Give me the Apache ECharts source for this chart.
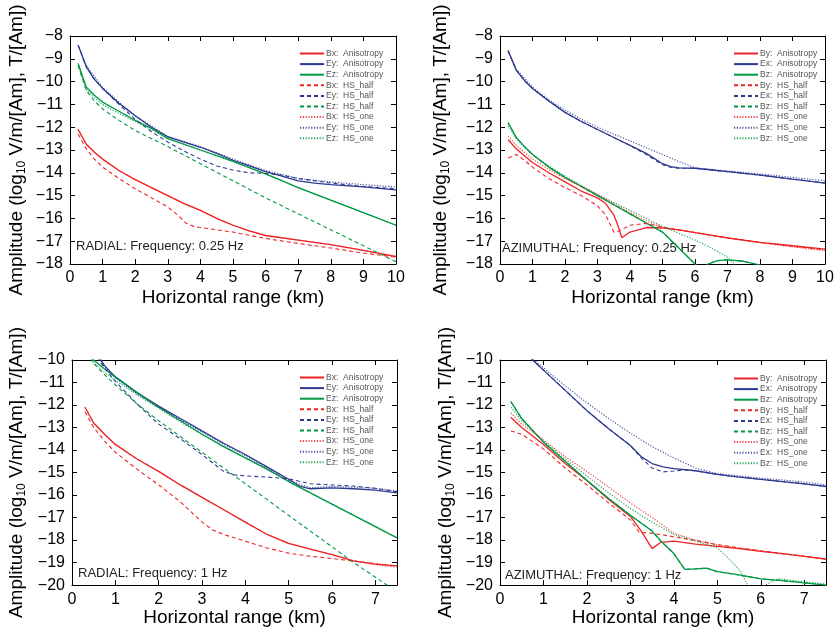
<!DOCTYPE html>
<html>
<head>
<meta charset="utf-8">
<script src="https://cdn.jsdelivr.net/npm/echarts@6/dist/echarts.min.js"></script>
<style>html,body{margin:0;padding:0;background:#fff}#c{width:838px;height:628px}</style>
</head>
<body>
<div id="c"></div>
<script>
// ---------- Panel 1: RADIAL, 0.25 Hz ----------
const r025_Bx_aniso = [[0.25,-12.1],[0.5,-12.75],[0.75,-13.1],[1,-13.4],[1.5,-13.9],[2,-14.3],[2.5,-14.65],[3,-15.0],[3.5,-15.35],[4,-15.65],[4.5,-16.0],[5,-16.3],[5.5,-16.55],[6,-16.75],[7,-16.95],[8,-17.15],[9,-17.4],[10,-17.68]];
const r025_Ey_aniso = [[0.25,-8.4],[0.5,-9.35],[0.75,-9.9],[1,-10.3],[1.5,-10.95],[2,-11.5],[2.5,-12.0],[3,-12.42],[3.5,-12.65],[4,-12.88],[4.5,-13.15],[5,-13.45],[5.5,-13.7],[6,-13.95],[6.5,-14.15],[7,-14.35],[7.5,-14.45],[8,-14.52],[9,-14.62],[10,-14.75]];
const r025_Ez_aniso = [[0.25,-9.2],[0.5,-10.25],[0.75,-10.6],[1,-10.9],[1.5,-11.3],[2,-11.7],[2.5,-12.05],[3,-12.5],[4,-13.0],[5,-13.5],[6,-14.05],[7,-14.65],[8,-15.2],[9,-15.75],[10,-16.3]];
const r025_Bx_half = [[0.25,-12.3],[0.5,-12.95],[0.75,-13.4],[1,-13.75],[1.5,-14.25],[2,-14.7],[2.5,-15.1],[3,-15.5],[3.3,-15.85],[3.55,-16.2],[3.8,-16.35],[4,-16.4],[5,-16.6],[6,-16.88],[7,-17.1],[8,-17.3],[9,-17.52],[10,-17.7]];
const r025_Ey_half = [[0.25,-8.4],[0.5,-9.35],[0.75,-9.9],[1,-10.3],[1.5,-11.0],[2,-11.65],[2.5,-12.2],[3,-12.65],[3.5,-13.05],[4,-13.4],[4.5,-13.7],[5,-13.88],[5.5,-14.0],[6,-14.02],[6.5,-14.1],[7,-14.25],[8,-14.45],[9,-14.6],[10,-14.7]];
const r025_Ez_half = [[0.25,-9.3],[0.5,-10.4],[0.75,-10.85],[1,-11.2],[1.5,-11.7],[2,-12.15],[3,-12.85],[4,-13.6],[5,-14.35],[6,-15.1],[7,-15.8],[8,-16.5],[9,-17.2],[10,-17.9]];
const r025_Bx_one = [[0.25,-12.1],[0.5,-12.75],[0.75,-13.1],[1,-13.4],[1.5,-13.9],[2,-14.3],[2.5,-14.65],[3,-15.0],[3.5,-15.35],[4,-15.65],[4.5,-16.0],[5,-16.3],[5.5,-16.55],[6,-16.75],[7,-16.95],[8,-17.15],[9,-17.4],[10,-17.65]];
const r025_Ey_one = [[0.25,-8.4],[0.5,-9.3],[1,-10.25],[1.5,-10.9],[2,-11.5],[3,-12.4],[4,-12.85],[5,-13.4],[6,-13.9],[7,-14.25],[8,-14.4],[9,-14.52],[10,-14.62]];
const r025_Ez_one = [[0.25,-9.3],[0.5,-10.35],[0.75,-10.7],[1,-11.0],[1.5,-11.4],[2,-11.75],[2.5,-12.1],[3,-12.5],[4,-13.0],[5,-13.5],[6,-14.05],[7,-14.65],[8,-15.2],[9,-15.75],[10,-16.3]];

// ---------- Panel 2: AZIMUTHAL, 0.25 Hz ----------
const a025_By_aniso = [[0.25,-12.55],[0.5,-12.95],[0.75,-13.25],[1,-13.55],[1.5,-14.0],[2,-14.4],[2.5,-14.8],[3,-15.1],[3.25,-15.35],[3.5,-15.85],[3.6,-16.2],[3.75,-16.85],[4,-16.6],[4.5,-16.4],[5,-16.42],[5.5,-16.5],[6,-16.62],[7,-16.85],[8,-17.05],[9,-17.2],[10,-17.35]];
const a025_Ex_aniso = [[0.25,-8.65],[0.5,-9.5],[0.75,-9.95],[1,-10.3],[1.5,-10.85],[2,-11.35],[2.5,-11.75],[3,-12.1],[3.5,-12.45],[4,-12.8],[4.5,-13.15],[5,-13.6],[5.25,-13.73],[5.5,-13.78],[6,-13.8],[7,-13.95],[8,-14.1],[9,-14.28],[10,-14.45]];
const a025_Bz_aniso = [[0.25,-11.8],[0.5,-12.45],[0.75,-12.85],[1,-13.2],[1.5,-13.75],[2,-14.2],[2.5,-14.6],[3,-15.0],[3.5,-15.4],[4,-15.8],[4.5,-16.2],[5,-16.6],[5.5,-17.3],[6,-18.0],[6.2,-18.3],[6.4,-18.0],[6.7,-17.85],[7,-17.82],[7.5,-17.88],[8,-18.05],[8.2,-18.2]];
const a025_By_half = [[0.25,-13.35],[0.5,-13.2],[0.75,-13.45],[1,-13.75],[1.5,-14.25],[2,-14.65],[2.5,-15.0],[3,-15.45],[3.25,-15.85],[3.5,-16.6],[3.6,-16.6],[4,-16.3],[4.5,-16.22],[5,-16.38],[5.5,-16.5],[6,-16.62],[7,-16.85],[8,-17.05],[9,-17.22],[10,-17.38]];
const a025_Ex_half = [[0.25,-8.65],[0.5,-9.5],[0.75,-9.95],[1,-10.3],[1.5,-10.85],[2,-11.35],[2.5,-11.75],[3,-12.1],[3.5,-12.45],[4,-12.8],[4.5,-13.2],[5,-13.65],[5.25,-13.76],[5.5,-13.8],[6,-13.8],[7,-13.95],[8,-14.1],[9,-14.28],[10,-14.45]];
const a025_Bz_half = [[0.25,-11.8],[0.5,-12.45],[0.75,-12.85],[1,-13.2],[1.5,-13.75],[2,-14.2],[2.5,-14.6],[3,-15.0],[3.5,-15.4],[4,-15.8],[4.5,-16.2],[5,-16.6],[5.5,-17.3],[6,-18.0],[6.2,-18.3],[6.4,-18.0],[6.7,-17.85],[7,-17.82],[7.5,-17.88],[8,-18.05],[8.2,-18.2]];
const a025_By_one = [[0.25,-12.4],[0.5,-12.8],[1,-13.4],[1.5,-13.85],[2,-14.25],[2.5,-14.6],[3,-14.95],[3.5,-15.35],[4,-15.75],[4.5,-16.1],[5,-16.4],[6,-16.62],[7,-16.87],[8,-17.07],[9,-17.25],[10,-17.42]];
const a025_Ex_one = [[0.25,-8.65],[0.5,-9.45],[1,-10.25],[1.5,-10.8],[2,-11.25],[2.5,-11.65],[3,-12.0],[3.5,-12.3],[4,-12.6],[4.5,-12.9],[5,-13.2],[5.5,-13.5],[6,-13.78],[7,-13.92],[8,-14.05],[9,-14.2],[10,-14.35]];
const a025_Bz_one = [[0.25,-11.95],[0.5,-12.5],[1,-13.2],[1.5,-13.7],[2,-14.15],[2.5,-14.55],[3,-14.95],[3.5,-15.3],[4,-15.65],[4.5,-16.0],[5,-16.35],[5.5,-16.65],[6,-16.95],[6.5,-17.3],[7,-17.7],[7.25,-18.05],[7.5,-18.4]];

// ---------- Panel 3: RADIAL, 1 Hz ----------
const r1_Bx_aniso = [[0.3,-12.1],[0.5,-12.8],[0.75,-13.3],[1,-13.75],[1.5,-14.4],[2,-14.95],[2.5,-15.55],[3,-16.1],[3.5,-16.65],[4,-17.2],[4.5,-17.75],[5,-18.15],[5.5,-18.4],[6,-18.65],[6.5,-18.92],[7,-19.07],[7.5,-19.15]];
const r1_Ey_aniso = [[0.25,-8.6],[0.5,-9.5],[0.75,-10.25],[1,-10.75],[1.5,-11.45],[2,-12.05],[2.5,-12.6],[3,-13.15],[3.5,-13.7],[4,-14.2],[4.5,-14.75],[5,-15.3],[5.25,-15.6],[5.5,-15.72],[6,-15.68],[6.5,-15.72],[7,-15.78],[7.5,-15.9]];
const r1_Ez_aniso = [[0.25,-9.3],[0.5,-10.0],[0.75,-10.4],[1,-10.75],[1.5,-11.45],[2,-12.1],[2.5,-12.7],[3,-13.3],[3.5,-13.85],[4,-14.35],[4.5,-14.85],[5,-15.4],[5.5,-15.9],[6,-16.4],[6.5,-16.9],[7,-17.4],[7.5,-17.9]];
const r1_Bx_half = [[0.3,-12.3],[0.5,-13.0],[0.75,-13.6],[1,-14.1],[1.5,-14.85],[2,-15.55],[2.5,-16.3],[3,-17.2],[3.25,-17.55],[3.5,-17.75],[4,-18.05],[4.5,-18.35],[5,-18.58],[5.5,-18.72],[6,-18.82],[6.5,-18.93],[7,-19.05],[7.5,-19.15]];
const r1_Ey_half = [[0.25,-8.8],[0.5,-9.7],[0.75,-10.35],[1,-10.95],[1.5,-11.95],[2,-12.85],[2.5,-13.5],[3,-14.2],[3.5,-14.95],[3.75,-15.1],[4,-15.15],[4.5,-15.2],[5,-15.28],[5.5,-15.5],[6,-15.55],[6.5,-15.6],[7,-15.7],[7.5,-15.85]];
const r1_Ez_half = [[0.25,-9.4],[0.5,-10.15],[0.75,-10.65],[1,-11.1],[1.5,-11.95],[2,-12.7],[2.5,-13.4],[3,-14.1],[3.5,-14.8],[4,-15.5],[4.5,-16.2],[5,-16.9],[5.5,-17.6],[6,-18.3],[6.5,-19.0],[7,-19.65],[7.5,-20.3]];
const r1_Bx_one = [[0.3,-12.1],[0.5,-12.8],[0.75,-13.3],[1,-13.75],[1.5,-14.4],[2,-14.95],[2.5,-15.55],[3,-16.1],[3.5,-16.65],[4,-17.2],[4.5,-17.75],[5,-18.15],[5.5,-18.4],[6,-18.65],[6.5,-18.92],[7,-19.1],[7.5,-19.2]];
const r1_Ey_one = [[0.25,-8.6],[0.5,-9.5],[0.75,-10.3],[1,-10.8],[1.5,-11.5],[2,-12.1],[2.5,-12.65],[3,-13.2],[3.5,-13.75],[4,-14.25],[4.5,-14.8],[5,-15.35],[5.5,-15.68],[6,-15.62],[6.5,-15.65],[7,-15.7],[7.5,-15.82]];
const r1_Ez_one = [[0.25,-9.35],[0.5,-10.1],[0.75,-10.55],[1,-10.9],[1.5,-11.55],[2,-12.15],[2.5,-12.75],[3,-13.3],[3.5,-13.85],[4,-14.35],[4.5,-14.85],[5,-15.4],[5.5,-15.9],[6,-16.4],[6.5,-16.9],[7,-17.4],[7.5,-17.9]];

// ---------- Panel 4: AZIMUTHAL, 1 Hz ----------
const a1_By_aniso = [[0.25,-12.55],[0.5,-13.0],[1,-13.75],[1.5,-14.6],[2,-15.35],[2.5,-16.2],[3,-16.95],[3.25,-17.6],[3.5,-18.38],[3.7,-18.1],[4,-18.05],[4.5,-18.18],[5,-18.28],[5.5,-18.38],[6,-18.5],[6.5,-18.6],[7,-18.72],[7.5,-18.85]];
const a1_Ex_aniso = [[0.25,-8.7],[0.5,-9.5],[0.75,-10.0],[1,-10.45],[1.5,-11.35],[2,-12.25],[2.5,-13.05],[3,-13.8],[3.25,-14.3],[3.5,-14.6],[3.75,-14.75],[4,-14.83],[4.5,-14.92],[5,-15.08],[5.5,-15.2],[6,-15.3],[6.5,-15.4],[7,-15.5],[7.5,-15.62]];
const a1_Bz_aniso = [[0.25,-11.85],[0.5,-12.6],[1,-13.65],[1.5,-14.5],[2,-15.35],[2.5,-16.15],[3,-16.9],[3.5,-17.6],[3.7,-18.04],[4,-18.6],[4.25,-19.3],[4.5,-19.28],[4.75,-19.25],[5,-19.4],[5.5,-19.55],[6,-19.72],[6.5,-19.8],[7,-19.9],[7.5,-20.0]];
const a1_By_half = [[0.25,-13.15],[0.5,-13.3],[1,-13.95],[1.5,-14.8],[2,-15.55],[2.5,-16.35],[3,-17.1],[3.2,-17.65],[3.5,-17.7],[4,-17.85],[4.5,-18.02],[5,-18.2],[5.5,-18.35],[6,-18.48],[6.5,-18.6],[7,-18.72],[7.5,-18.85]];
const a1_Ex_half = [[0.25,-8.7],[0.5,-9.5],[0.75,-10.0],[1,-10.45],[1.5,-11.35],[2,-12.25],[2.5,-13.05],[3,-13.8],[3.25,-14.35],[3.5,-14.8],[3.75,-14.97],[4,-14.93],[4.25,-14.88],[4.5,-14.92],[5,-15.08],[5.5,-15.2],[6,-15.3],[6.5,-15.4],[7,-15.5],[7.5,-15.62]];
const a1_Bz_half = [[0.25,-11.85],[0.5,-12.6],[1,-13.65],[1.5,-14.5],[2,-15.35],[2.5,-16.15],[3,-16.9],[3.5,-17.6],[3.7,-18.04],[4,-18.6],[4.25,-19.3],[4.5,-19.28],[4.75,-19.25],[5,-19.4],[5.5,-19.55],[6,-19.72],[6.5,-19.8],[7,-19.9],[7.5,-20.0]];
const a1_By_one = [[0.25,-12.35],[0.5,-12.85],[1,-13.55],[1.5,-14.3],[2,-14.95],[2.5,-15.65],[3,-16.35],[3.5,-17.0],[4,-17.7],[4.5,-18.0],[5,-18.22],[5.5,-18.35],[6,-18.48],[6.5,-18.6],[7,-18.72],[7.5,-18.85]];
const a1_Ex_one = [[0.25,-8.7],[0.5,-9.4],[0.75,-9.95],[1,-10.35],[1.5,-11.15],[2,-11.9],[2.5,-12.6],[3,-13.25],[3.5,-13.85],[4,-14.35],[4.5,-14.8],[5,-15.05],[5.5,-15.15],[6,-15.25],[6.5,-15.33],[7,-15.42],[7.5,-15.55]];
const a1_Bz_one = [[0.25,-12.1],[0.5,-12.7],[1,-13.6],[1.5,-14.4],[2,-15.15],[2.5,-15.9],[3,-16.6],[3.5,-17.2],[4,-17.75],[4.5,-18.05],[5,-18.35],[5.25,-18.8],[5.5,-19.3],[5.7,-20.0],[5.9,-20.4],[6.1,-20.0],[6.4,-19.72],[7,-19.85],[7.5,-19.95]];

// ---------- Labels ----------
const radialNames = ['Bx:  Anisotropy','Ey:  Anisotropy','Ez:  Anisotropy','Bx:  HS_half','Ey:  HS_half','Ez:  HS_half','Bx:  HS_one','Ey:  HS_one','Ez:  HS_one'];
const azimuthNames = ['By:  Anisotropy','Ex:  Anisotropy','Bz:  Anisotropy','By:  HS_half','Ex:  HS_half','Bz:  HS_half','By:  HS_one','Ex:  HS_one','Bz:  HS_one'];
const panelTexts = ['RADIAL: Frequency: 0.25 Hz','AZIMUTHAL: Frequency: 0.25 Hz','RADIAL: Frequency: 1 Hz','AZIMUTHAL: Frequency: 1 Hz'];
const xMaxes = [10, 10, 7.5, 7.5];
const yMins = [-18, -18, -20, -20];
const yMaxes = [-8, -8, -10, -10];
const xTitle = 'Horizontal range (km)';

const panelData = [
  [r025_Bx_aniso, r025_Ey_aniso, r025_Ez_aniso, r025_Bx_half, r025_Ey_half, r025_Ez_half, r025_Bx_one, r025_Ey_one, r025_Ez_one],
  [a025_By_aniso, a025_Ex_aniso, a025_Bz_aniso, a025_By_half, a025_Ex_half, a025_Bz_half, a025_By_one, a025_Ex_one, a025_Bz_one],
  [r1_Bx_aniso, r1_Ey_aniso, r1_Ez_aniso, r1_Bx_half, r1_Ey_half, r1_Ez_half, r1_Bx_one, r1_Ey_one, r1_Ez_one],
  [a1_By_aniso, a1_Ex_aniso, a1_Bz_aniso, a1_By_half, a1_Ex_half, a1_Bz_half, a1_By_one, a1_Ex_one, a1_Bz_one]
];
const panelNames = [radialNames, azimuthNames, radialNames, azimuthNames];

// ---------- Styling ----------
const FONT = '"Liberation Sans", Arial, Helvetica, sans-serif';
const RED = '#ee2424', BLUE = '#2b3990', GREEN = '#009a44';
const colorsByIdx = [RED, BLUE, GREEN];
const styleByRow = [
  {type: 'solid', width: 1.3},
  {type: [4, 3], width: 1.1},
  {type: [1.2, 1.6], width: 1.2}
];
const grids = [
  {left: 70, top: 36, width: 326, height: 228},
  {left: 500, top: 36, width: 325, height: 228},
  {left: 72, top: 360, width: 325, height: 228},
  {left: 500, top: 360, width: 326, height: 228}
];
const yNameGaps = [42, 48, 44, 43];
const xNameGaps = [24, 24, 20, 20];
const legendPos = [{left: 299, top: 49}, {left: 733, top: 49}, {left: 299, top: 373}, {left: 733, top: 374}];
const textPos = [{x: 76, y: 248}, {x: 502, y: 250}, {x: 78, y: 575}, {x: 505, y: 577}];

const minus = v => String(v).replace('-', '\u2212');

const xAxes = [], yAxes = [], series = [], legends = [], graphics = [];
for (let p = 0; p < 4; p++) {
  xAxes.push({
    type: 'value', gridIndex: p, min: 0, max: xMaxes[p], interval: 1, position: 'bottom',
    axisLine: {show: true, onZero: false, lineStyle: {color: '#000', width: 1}},
    axisTick: {show: true, inside: true, length: 5, lineStyle: {color: '#000'}},
    axisLabel: {show: true, fontSize: 16, color: '#000', fontFamily: FONT, margin: 6, showMaxLabel: xMaxes[p] === 10, formatter: minus},
    splitLine: {show: false},
    name: xTitle, nameLocation: 'middle', nameGap: xNameGaps[p],
    nameTextStyle: {fontSize: 19, color: '#000', fontFamily: FONT}
  });
  yAxes.push({
    type: 'value', gridIndex: p, min: yMins[p], max: yMaxes[p], interval: 1, position: 'left',
    axisLine: {show: true, onZero: false, lineStyle: {color: '#000', width: 1}},
    axisTick: {show: true, inside: true, length: 5, lineStyle: {color: '#000'}},
    axisLabel: {show: true, fontSize: 16, color: '#000', fontFamily: FONT, margin: 7, formatter: minus},
    splitLine: {show: false},
    name: '{n|Amplitude (log}{s|10}{n| V/m/[Am], T/[Am])}', nameLocation: 'middle', nameGap: yNameGaps[p], nameRotate: 90,
    nameTextStyle: {
      color: '#000', fontFamily: FONT,
      rich: {
        n: {fontSize: 19, fontFamily: FONT, color: '#000', lineHeight: 22},
        s: {fontSize: 12, fontFamily: FONT, color: '#000', lineHeight: 22, verticalAlign: 'bottom', padding: [8, 0, 0, 0]}
      }
    }
  });
}
for (let p = 0; p < 4; p++) {
  xAxes.push({
    type: 'value', gridIndex: p, min: 0, max: xMaxes[p], interval: 1, position: 'top',
    axisLine: {show: true, onZero: false, lineStyle: {color: '#000', width: 1}},
    axisTick: {show: true, inside: true, length: 5, lineStyle: {color: '#000'}},
    axisLabel: {show: false}, splitLine: {show: false}
  });
  yAxes.push({
    type: 'value', gridIndex: p, min: yMins[p], max: yMaxes[p], interval: 1, position: 'right',
    axisLine: {show: true, onZero: false, lineStyle: {color: '#000', width: 1}},
    axisTick: {show: true, inside: true, length: 5, lineStyle: {color: '#000'}},
    axisLabel: {show: false}, splitLine: {show: false}
  });
}

for (let p = 0; p < 4; p++) {
  const names = panelNames[p];
  for (let k = 0; k < 9; k++) {
    const row = Math.floor(k / 3), comp = k % 3;
    series.push({
      name: names[k], type: 'line', xAxisIndex: p, yAxisIndex: p,
      data: panelData[p][k], symbol: 'none', showSymbol: false, silent: true, clip: true,
      lineStyle: {color: colorsByIdx[comp], type: styleByRow[row].type, width: styleByRow[row].width, opacity: row === 2 ? 0.85 : 1},
      itemStyle: {color: colorsByIdx[comp]},
      z: 2 + row
    });
  }
  legends.push({
    orient: 'vertical', left: legendPos[p].left, top: legendPos[p].top,
    itemWidth: 24, itemHeight: 8, itemGap: 1.6, padding: 0,
    data: names, selectedMode: false,
    itemStyle: {color: 'rgba(0,0,0,0)', borderColor: 'rgba(0,0,0,0)', borderWidth: 0, opacity: 0},
    formatter: n => { const parts = n.split(/\s+/); return '{a|' + parts[0] + '}{b|' + parts[1] + '}'; },
    textStyle: {
      fontSize: 8.5, color: '#555', fontFamily: FONT, padding: [0, 0, 0, -3],
      rich: {a: {width: 17, fontSize: 8.5, color: '#555', fontFamily: FONT}, b: {fontSize: 8.5, color: '#555', fontFamily: FONT}}
    }
  });
  graphics.push({
    type: 'text', left: textPos[p].x, top: textPos[p].y - 8,
    style: {text: panelTexts[p], fontSize: 13, fill: '#222', fontFamily: FONT}
  });
}

const chart = echarts.init(document.getElementById('c'), null, {renderer: 'canvas'});
chart.setOption({
  animation: false,
  backgroundColor: '#fff',
  grid: grids,
  xAxis: xAxes,
  yAxis: yAxes,
  legend: legends,
  series: series,
  graphic: graphics
});
</script>
</body>
</html>
